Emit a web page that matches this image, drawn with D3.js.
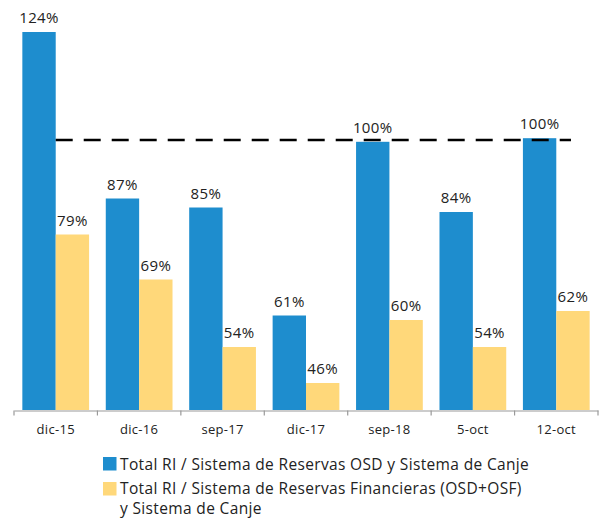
<!DOCTYPE html>
<html>
<head>
<meta charset="utf-8">
<script src="https://cdn.jsdelivr.net/npm/d3@7"></script>
<style>
  body { margin: 0; background: white; }
  text { font-family: "Open Sans", sans-serif; }
</style>
</head>
<body>
<svg id="chart"></svg>
<script>
// categories and series
var categories = ["dic-15", "dic-16", "sep-17", "dic-17", "sep-18", "5-oct", "12-oct"];
var seriesNames = [
    "Total RI / Sistema de Reservas OSD y Sistema de Canje",
    "Total RI / Sistema de Reservas Financieras (OSD+OSF)"
];
var osdValues = [124, 87, 85, 61, 99.6, 84, 100.4];
var finValues = [79, 69, 54, 46, 60, 54, 62];
var referenceLevel = 100;

var dimensions = {
    width: 606,
    height: 518,
    margin: { top: 32, bottom: 108, left: 14, right: 8 }
}

var svg = d3.select("#chart")
    .attr("width", dimensions.width)
    .attr("height", dimensions.height);

var colors = ["#1E8DCE", "#FFD87A"];

var xScale = d3.scaleBand()
    .domain(categories)
    .range([dimensions.margin.left, dimensions.width - dimensions.margin.right])
    .paddingInner(0.2)
    .paddingOuter(0.1);

var xSeries = d3.scaleBand()
    .domain([0, 1])
    .range([0, xScale.bandwidth()]);

var baseline = dimensions.height - dimensions.margin.bottom;

// axis does not start at zero in the original
var yScale = d3.scaleLinear()
    .domain([40, 124])
    .range([baseline, dimensions.margin.top]);

var rows = categories.map((c, i) => ({ cat: c, values: [osdValues[i], finValues[i]] }));

var groups = svg.selectAll(".group")
    .data(rows)
    .enter()
    .append("g")
    .attr("class", "group")
    .attr("transform", d => `translate(${xScale(d.cat)},0)`);

var cells = groups.selectAll(".cell")
    .data(d => d.values.map((v, s) => ({ v: v, s: s })))
    .enter();

cells.append("rect")
    .attr("x", d => xSeries(d.s))
    .attr("width", xSeries.bandwidth())
    .attr("y", d => yScale(d.v))
    .attr("height", d => baseline - yScale(d.v))
    .attr("fill", d => colors[d.s]);

cells.append("text")
    .attr("x", d => xSeries(d.s) + xSeries.bandwidth() / 2)
    .attr("y", d => yScale(d.v) - 9)
    .attr("text-anchor", "middle")
    .style("font-size", "15px")
    .style("letter-spacing", "0.4px")
    .style("fill", "#222")
    .text(d => d3.format(".0f")(d.v) + "%");

// dashed 100% line
svg.append("line")
    .attr("x1", xScale(categories[0]) + xScale.bandwidth() / 2)
    .attr("x2", xScale(categories[categories.length - 1]) + xScale.bandwidth() * 0.72)
    .attr("y1", yScale(referenceLevel))
    .attr("y2", yScale(referenceLevel))
    .style("stroke", "#000")
    .style("stroke-width", 2.5)
    .style("stroke-dasharray", "17,11");

// x axis
var xAxis = svg.append("g")
    .attr("transform", `translate(0,${baseline + 0.5})`)
    .call(d3.axisBottom(xScale).tickSize(0).tickPadding(14));

xAxis.select(".domain").attr("stroke", "#999").attr("stroke-width", 1.2);
xAxis.selectAll("text")
    .style("font-size", "13px")
    .style("letter-spacing", "0.3px")
    .style("fill", "#222")
    .style("font-family", "'Open Sans', sans-serif");

var bounds = d3.range(categories.length + 1).map(i =>
    i < categories.length ? xScale(categories[i]) - xScale.step() * xScale.paddingInner() / 2
        : xScale(categories[i - 1]) + xScale.bandwidth() + xScale.step() * xScale.paddingInner() / 2);

xAxis.selectAll(".sep")
    .data(bounds)
    .enter()
    .append("line")
    .attr("x1", d => d)
    .attr("x2", d => d)
    .attr("y1", 0)
    .attr("y2", 5)
    .attr("stroke", "#999")
    .attr("stroke-width", 1.2);

// legend
var legend = svg.append("g").attr("transform", "translate(103,457)");

legend.append("rect").attr("x", 0).attr("y", 0).attr("width", 13.5).attr("height", 13.5).attr("fill", colors[0]);
legend.append("rect").attr("x", 0).attr("y", 25).attr("width", 13.5).attr("height", 13.5).attr("fill", colors[1]);

legend.append("text")
    .attr("x", 17)
    .attr("y", 12.5)
    .style("font-size", "15.5px")
    .style("letter-spacing", "0.35px")
    .style("fill", "#222")
    .text(seriesNames[0]);

var t2 = legend.append("text")
    .attr("x", 17)
    .attr("y", 37)
    .style("font-size", "15.5px")
    .style("letter-spacing", "0.35px")
    .style("fill", "#222");
t2.append("tspan").text(seriesNames[1]);
t2.append("tspan").attr("x", 17).attr("dy", 20).text("y Sistema de Canje");
</script>
</body>
</html>
